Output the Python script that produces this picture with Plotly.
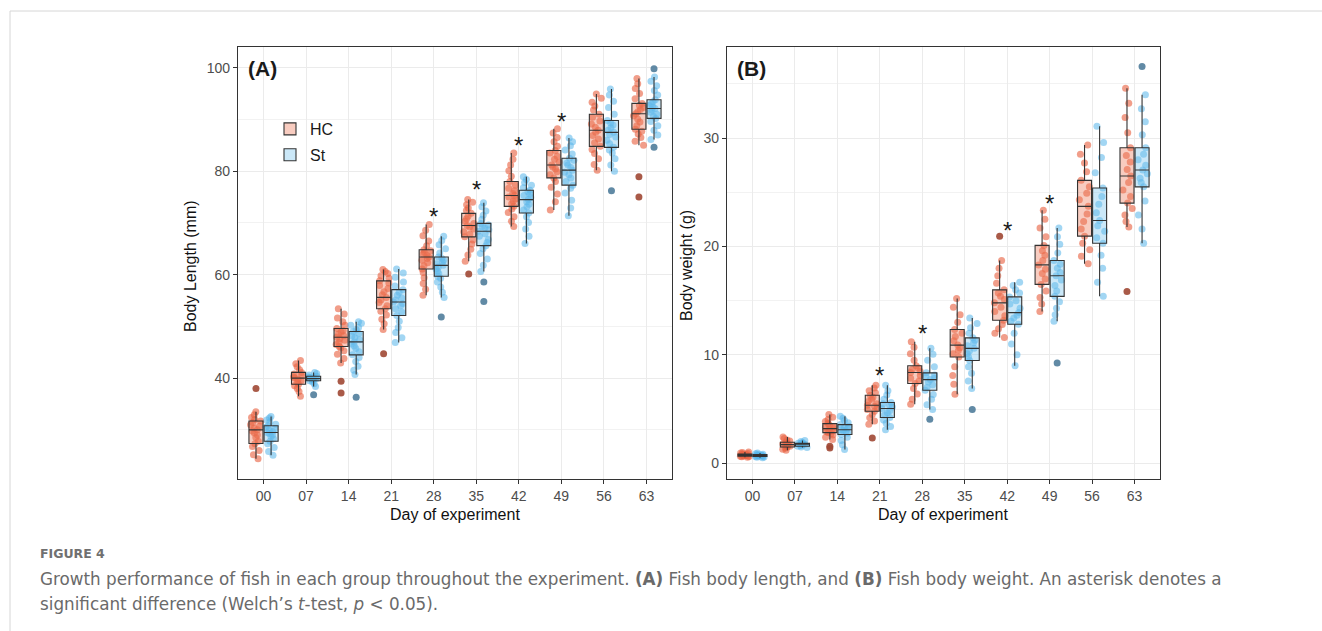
import plotly.graph_objects as go

days = ["00", "07", "14", "21", "28", "35", "42", "49", "56", "63"]
groups = ["HC", "St"]

# ---------------- Panel A: body length (mm) ----------------
A_HC_pts = [
    [24.4, 25.2, 26.0, 26.8, 27.3, 27.8, 28.5, 29.0, 29.4, 29.8, 30.0, 30.3, 30.7, 31.0, 31.4, 31.7, 32.0, 32.4, 32.9, 33.5],
    [36.5, 37.4, 38.0, 38.5, 38.8, 39.2, 39.5, 39.8, 40.0, 40.2, 40.5, 40.8, 41.1, 41.6, 42.2, 42.8, 43.4],
    [42.9, 43.8, 44.6, 45.3, 45.8, 46.1, 46.5, 46.9, 47.3, 47.6, 47.9, 48.2, 48.5, 48.9, 49.2, 49.6, 50.2, 50.9, 51.6, 52.4, 53.4],
    [49.4, 50.5, 51.4, 52.2, 52.9, 53.4, 54.0, 54.6, 55.1, 55.6, 56.1, 56.7, 57.3, 57.9, 58.4, 58.8, 59.3, 59.8, 60.2, 60.6, 61.0],
    [56.0, 57.2, 58.3, 59.4, 60.4, 61.1, 61.7, 62.3, 62.8, 63.1, 63.4, 63.7, 64.0, 64.3, 64.6, 64.8, 65.6, 66.5, 67.5, 68.6, 69.7],
    [62.6, 63.8, 64.9, 65.9, 66.7, 67.3, 67.8, 68.3, 68.8, 69.2, 69.5, 69.9, 70.3, 70.8, 71.3, 71.85, 72.4, 72.9, 73.5, 74.0, 74.5],
    [69.3, 70.3, 71.2, 72.0, 72.7, 73.2, 73.7, 74.2, 74.6, 75.0, 75.3, 75.7, 76.2, 76.7, 77.3, 78.0, 79.0, 80.1, 81.2, 82.3, 83.5],
    [72.5, 74.1, 75.6, 76.9, 78.0, 78.7, 79.3, 79.9, 80.4, 80.8, 81.2, 81.7, 82.3, 82.9, 83.5, 84.0, 84.8, 85.7, 86.5, 87.4, 88.2],
    [80.2, 81.3, 82.4, 83.4, 84.2, 84.8, 85.5, 86.2, 86.9, 87.5, 87.9, 88.5, 89.1, 89.7, 90.4, 91.0, 91.8, 92.6, 93.3, 94.1, 94.9],
    [85.0, 85.8, 86.5, 87.2, 87.7, 88.1, 88.8, 89.5, 90.1, 90.7, 91.1, 91.5, 91.9, 92.3, 92.7, 93.1, 94.0, 95.0, 96.0, 96.9, 97.9],
]
A_ST_pts = [
    [25.1, 25.8, 26.6, 27.3, 27.8, 28.3, 28.7, 29.0, 29.3, 29.5, 29.7, 29.9, 30.2, 30.5, 30.8, 31.1, 31.5, 31.9, 32.3, 32.6],
    [38.4, 38.9, 39.3, 39.5, 39.7, 39.8, 39.9, 40.0, 40.1, 40.2, 40.35, 40.6, 40.9, 41.1],
    [40.7, 41.5, 42.3, 43.2, 44.0, 44.5, 45.1, 45.7, 46.2, 46.6, 47.0, 47.4, 47.8, 48.2, 48.6, 49.0, 49.4, 49.8, 50.2, 50.6, 50.9],
    [46.9, 47.8, 48.8, 49.8, 51.0, 52.1, 52.8, 53.4, 54.0, 54.4, 54.7, 55.1, 55.5, 56.0, 56.6, 57.1, 57.8, 58.6, 59.5, 60.3, 61.1],
    [55.6, 56.6, 57.6, 58.6, 59.3, 59.7, 60.2, 60.7, 61.1, 61.5, 61.8, 62.1, 62.5, 62.8, 63.1, 63.4, 64.2, 65.0, 65.8, 66.6, 67.4],
    [60.6, 61.8, 63.0, 64.1, 65.0, 65.6, 66.2, 66.8, 67.4, 67.9, 68.4, 68.7, 69.0, 69.3, 69.6, 69.9, 70.7, 71.5, 72.3, 73.1, 73.9],
    [66.0, 67.4, 68.8, 70.1, 71.2, 71.9, 72.5, 73.1, 73.6, 74.1, 74.5, 74.9, 75.3, 75.6, 76.0, 76.3, 76.8, 77.3, 77.8, 78.4, 78.9],
    [71.4, 72.9, 74.4, 75.8, 76.7, 77.3, 78.0, 78.7, 79.3, 79.8, 80.2, 80.7, 81.2, 81.6, 82.1, 82.5, 83.3, 84.1, 84.9, 85.7, 86.4],
    [80.0, 81.2, 82.4, 83.5, 84.1, 84.6, 85.3, 86.0, 86.6, 87.1, 87.5, 87.9, 88.4, 88.9, 89.3, 89.8, 91.0, 92.3, 93.5, 94.7, 95.9],
    [86.1, 87.0, 87.9, 88.8, 89.6, 90.2, 90.6, 91.0, 91.4, 91.8, 92.1, 92.4, 92.7, 93.1, 93.4, 93.8, 94.7, 95.6, 96.5, 97.4, 98.2],
]
A_HC_out = [[38.0], [], [39.4, 37.1], [44.7], [], [60.1], [], [], [], [78.9, 75.0]]
A_ST_out = [[], [36.8], [36.3], [], [51.8], [58.6, 54.8], [], [], [76.2], [99.8, 84.6]]

# box statistics (lower whisker, q1, median, q3, upper whisker)
A_HC_lo = [24.4, 36.5, 42.9, 49.4, 56.0, 62.6, 69.3, 72.5, 80.2, 85.0]
A_HC_q1 = [27.35, 38.8, 46.1, 53.4, 61.1, 67.3, 73.2, 78.7, 84.8, 88.1]
A_HC_med = [30.0, 40.0, 47.9, 55.6, 63.4, 69.5, 75.3, 81.2, 87.9, 91.1]
A_HC_q3 = [31.7, 41.1, 49.6, 58.8, 64.8, 71.85, 78.0, 84.0, 91.0, 93.1]
A_HC_hi = [33.5, 43.4, 53.4, 61.0, 69.7, 74.5, 83.5, 88.2, 94.9, 97.9]
A_ST_lo = [25.1, 38.4, 40.7, 46.9, 55.6, 60.6, 66.0, 71.4, 80.0, 86.1]
A_ST_q1 = [27.8, 39.5, 44.5, 52.1, 59.7, 65.6, 71.9, 77.3, 84.6, 90.2]
A_ST_med = [29.5, 39.9, 47.0, 54.7, 61.8, 68.4, 74.5, 80.2, 87.5, 92.1]
A_ST_q3 = [30.8, 40.35, 49.0, 57.1, 63.4, 69.9, 76.3, 82.5, 89.8, 93.8]
A_ST_hi = [32.6, 41.1, 50.9, 61.1, 67.4, 73.9, 78.9, 86.4, 95.9, 98.2]

A_star_days = ["28", "35", "42", "49"]
A_star_y = [72.4, 77.6, 86.1, 90.7]

# ---------------- Panel B: body weight (g) ----------------
B_HC_pts = [
    [0.55, 0.6, 0.63, 0.65, 0.68, 0.71, 0.73, 0.75, 0.77, 0.79, 0.82, 0.85, 0.9, 0.95, 1.0, 1.05],
    [1.2, 1.3, 1.4, 1.5, 1.58, 1.65, 1.72, 1.78, 1.85, 1.94, 2.05, 2.15, 2.28, 2.43],
    [2.2, 2.4, 2.6, 2.75, 2.83, 2.92, 3.0, 3.1, 3.2, 3.3, 3.4, 3.5, 3.66, 3.85, 4.05, 4.25, 4.5],
    [3.6, 3.9, 4.2, 4.5, 4.8, 4.95, 5.1, 5.25, 5.35, 5.5, 5.7, 5.9, 6.1, 6.28, 6.5, 6.7, 6.95, 7.2],
    [5.45, 5.9, 6.4, 6.9, 7.36, 7.6, 7.85, 8.1, 8.37, 8.5, 8.65, 8.8, 9.0, 9.5, 10.1, 10.7, 11.2],
    [6.37, 7.3, 8.1, 8.9, 9.81, 10.1, 10.4, 10.65, 10.9, 11.3, 11.7, 12.0, 12.34, 13.0, 13.7, 14.4, 15.2],
    [11.6, 12.0, 12.4, 12.8, 13.2, 13.6, 14.0, 14.4, 14.8, 15.1, 15.4, 15.7, 16.0, 16.6, 17.3, 18.0, 18.7],
    [14.0, 14.7, 15.3, 15.9, 16.5, 17.0, 17.5, 17.9, 18.3, 18.7, 19.2, 19.6, 20.1, 20.9, 21.7, 22.5, 23.35],
    [18.4, 19.1, 19.7, 20.3, 20.95, 21.6, 22.3, 23.0, 23.7, 24.3, 24.9, 25.5, 26.1, 26.9, 27.7, 28.5, 29.35],
    [21.8, 22.3, 22.9, 23.5, 24.0, 24.6, 25.2, 25.9, 26.5, 27.1, 27.8, 28.4, 29.1, 30.5, 31.9, 33.2, 34.6],
]
B_ST_pts = [
    [0.5, 0.55, 0.59, 0.62, 0.65, 0.67, 0.69, 0.7, 0.72, 0.74, 0.77, 0.8, 0.84, 0.89, 0.95],
    [1.45, 1.5, 1.57, 1.63, 1.69, 1.75, 1.79, 1.82, 1.85, 1.92, 2.0, 2.1],
    [1.26, 1.7, 2.1, 2.4, 2.65, 2.8, 2.95, 3.05, 3.1, 3.2, 3.3, 3.42, 3.57, 3.75, 3.95, 4.15, 4.34],
    [3.1, 3.4, 3.7, 4.0, 4.22, 4.45, 4.65, 4.85, 5.05, 5.2, 5.35, 5.48, 5.6, 5.9, 6.3, 6.7, 7.2],
    [4.95, 5.4, 5.9, 6.35, 6.74, 7.0, 7.25, 7.5, 7.72, 7.85, 8.0, 8.15, 8.34, 8.9, 9.5, 10.05, 10.6],
    [6.9, 7.6, 8.3, 8.9, 9.48, 9.8, 10.1, 10.35, 10.6, 10.85, 11.1, 11.35, 11.57, 12.0, 12.5, 12.9, 13.4],
    [9.0, 10.0, 11.0, 12.0, 12.83, 13.1, 13.4, 13.65, 13.9, 14.3, 14.7, 15.0, 15.35, 15.7, 16.0, 16.4, 16.7],
    [13.1, 13.7, 14.3, 14.9, 15.4, 15.9, 16.4, 16.9, 17.3, 17.6, 18.0, 18.35, 18.7, 19.4, 20.2, 20.9, 21.7],
    [15.4, 16.7, 18.0, 19.2, 20.3, 20.8, 21.4, 21.9, 22.4, 23.1, 23.9, 24.6, 25.4, 26.8, 28.2, 29.6, 31.1],
    [20.3, 21.6, 22.9, 24.2, 25.5, 25.9, 26.3, 26.7, 27.05, 27.5, 28.0, 28.5, 29.1, 30.3, 31.5, 32.7, 34.0],
]
B_HC_out = [[], [], [1.57, 1.4], [2.34], [], [], [20.95], [], [], [15.85]]
B_ST_out = [[], [], [], [], [4.06], [4.95], [], [9.26], [], [36.6]]

B_HC_lo = [0.55, 1.2, 2.2, 3.6, 5.45, 6.37, 11.6, 14.0, 18.4, 21.8]
B_HC_q1 = [0.65, 1.5, 2.83, 4.8, 7.36, 9.81, 13.2, 16.5, 20.95, 24.0]
B_HC_med = [0.75, 1.72, 3.2, 5.35, 8.37, 10.9, 14.8, 18.3, 23.7, 26.5]
B_HC_q3 = [0.85, 1.94, 3.66, 6.28, 9.0, 12.34, 16.0, 20.1, 26.1, 29.1]
B_HC_hi = [1.05, 2.43, 4.5, 7.2, 11.2, 15.2, 18.7, 23.35, 29.35, 34.6]
B_ST_lo = [0.5, 1.45, 1.26, 3.1, 4.95, 6.9, 9.0, 13.1, 15.4, 20.3]
B_ST_q1 = [0.62, 1.57, 2.65, 4.22, 6.74, 9.48, 12.83, 15.4, 20.3, 25.5]
B_ST_med = [0.7, 1.75, 3.1, 5.05, 7.72, 10.6, 13.9, 17.3, 22.4, 27.05]
B_ST_q3 = [0.8, 1.85, 3.57, 5.6, 8.34, 11.57, 15.35, 18.7, 25.4, 29.1]
B_ST_hi = [0.95, 2.1, 4.34, 7.2, 10.6, 13.4, 16.7, 21.7, 31.1, 34.0]

B_star_days = ["21", "28", "42", "49"]
B_star_y = [8.68, 12.55, 22.06, 24.55]

# ---------------- styling ----------------
W, H = 1322, 631
PT_COL = {"HC": "rgba(232,99,66,0.62)", "St": "rgba(86,180,233,0.55)"}
FILL_COL = {"HC": "rgba(236,120,90,0.38)", "St": "rgba(110,190,236,0.36)"}
OUT_COL = {"HC": "rgba(160,72,52,0.9)", "St": "rgba(80,125,155,0.9)"}
FONT = "Liberation Sans, Arial, sans-serif"


def px_x(p):
    return p / W


def px_y(p):
    return 1 - p / H


fig = go.Figure()


def add_panel(xa, ya, pts, outs, stats, legend):
    # jittered raw points
    for g in groups:
        xs, ys = [], []
        for d, vals in zip(days, pts[g]):
            xs += [d] * len(vals)
            ys += vals
        fig.add_trace(go.Box(
            x=xs, y=ys, xaxis=xa, yaxis=ya, name=g, offsetgroup=g, alignmentgroup="a",
            boxpoints="all", jitter=0.8, pointpos=0,
            fillcolor="rgba(0,0,0,0)", line=dict(width=0, color="rgba(0,0,0,0)"),
            marker=dict(color=PT_COL[g], size=7, line=dict(width=0)),
            showlegend=False, hoverinfo="skip"))
    # boxes
    for g in groups:
        lo, q1, med, q3, hi = stats[g]
        fig.add_trace(go.Box(
            x=days, lowerfence=lo, q1=q1, median=med, q3=q3, upperfence=hi,
            xaxis=xa, yaxis=ya, name=g, offsetgroup=g, alignmentgroup="a",
            boxpoints=False, whiskerwidth=0,
            fillcolor=FILL_COL[g], line=dict(width=1.1, color="#333333"),
            showlegend=legend, legendgroup=g))
    # outliers
    for g in groups:
        xs, ys = [], []
        for d, vals in zip(days, outs[g]):
            xs += [d] * len(vals)
            ys += vals
        fig.add_trace(go.Box(
            x=xs, y=ys, xaxis=xa, yaxis=ya, name=g, offsetgroup=g, alignmentgroup="a",
            boxpoints="all", jitter=0, pointpos=0,
            fillcolor="rgba(0,0,0,0)", line=dict(width=0, color="rgba(0,0,0,0)"),
            marker=dict(color=OUT_COL[g], size=7, line=dict(width=0)),
            showlegend=False, hoverinfo="skip"))


add_panel("x", "y",
          {"HC": A_HC_pts, "St": A_ST_pts},
          {"HC": A_HC_out, "St": A_ST_out},
          {"HC": (A_HC_lo, A_HC_q1, A_HC_med, A_HC_q3, A_HC_hi),
           "St": (A_ST_lo, A_ST_q1, A_ST_med, A_ST_q3, A_ST_hi)}, True)
add_panel("x2", "y2",
          {"HC": B_HC_pts, "St": B_ST_pts},
          {"HC": B_HC_out, "St": B_ST_out},
          {"HC": (B_HC_lo, B_HC_q1, B_HC_med, B_HC_q3, B_HC_hi),
           "St": (B_ST_lo, B_ST_q1, B_ST_med, B_ST_q3, B_ST_hi)}, False)

ydom = [px_y(479), px_y(47)]
axis_common = dict(
    showline=True, mirror=True, linecolor="#333333", linewidth=1.3,
    ticks="outside", ticklen=4, tickwidth=1, tickcolor="#333333",
    tickfont=dict(family=FONT, size=14, color="#4D4D4D"),
    gridcolor="#EBEBEB", gridwidth=1, zeroline=False, showgrid=True,
)
xcommon = dict(axis_common, type="category", categoryorder="array",
               categoryarray=days, range=[-0.6, 9.6])

annotations = []
shapes = []

fig.update_layout(
    width=W, height=H,
    margin=dict(l=0, r=0, t=0, b=0),
    paper_bgcolor="white", plot_bgcolor="white",
    boxmode="group", boxgap=0.29, boxgroupgap=0.07,
    font=dict(family=FONT, color="#222222"),
    xaxis=dict(xcommon, domain=[px_x(238), px_x(672)], anchor="y"),
    yaxis=dict(axis_common, domain=ydom, anchor="x", range=[20.5, 104],
               tickvals=[40, 60, 80, 100],
               minor=dict(tickvals=[30, 50, 70, 90], showgrid=True,
                          gridcolor="#F2F2F2", gridwidth=1, ticks="")),
    xaxis2=dict(xcommon, domain=[px_x(727), px_x(1160)], anchor="y2"),
    yaxis2=dict(axis_common, domain=ydom, anchor="x2", range=[-1.45, 38.4],
                tickvals=[0, 10, 20, 30],
                minor=dict(tickvals=[5, 15, 25, 35], showgrid=True,
                           gridcolor="#F2F2F2", gridwidth=1, ticks="")),
    legend=dict(x=px_x(270), y=px_y(112), xanchor="left", yanchor="top",
                bgcolor="rgba(0,0,0,0)", font=dict(family=FONT, size=16, color="#1a1a1a"),
                itemwidth=30, tracegroupgap=2),
)

# panel tags
annotations.append(dict(text="<b>(A)</b>", x=px_x(246), y=px_y(68), xref="paper", yref="paper",
                        xanchor="left", yanchor="middle", showarrow=False,
                        font=dict(family=FONT, size=21, color="#1a1a1a")))
annotations.append(dict(text="<b>(B)</b>", x=px_x(735), y=px_y(68), xref="paper", yref="paper",
                        xanchor="left", yanchor="middle", showarrow=False,
                        font=dict(family=FONT, size=21, color="#1a1a1a")))

# significance asterisks (category axes: position by category index)
for d, yv in zip(A_star_days, A_star_y):
    annotations.append(dict(text="*", x=days.index(d), y=yv, xref="x", yref="y", showarrow=False,
                            yanchor="middle", yshift=-6,
                            font=dict(family=FONT, size=24, color="#1a1a1a")))
for d, yv in zip(B_star_days, B_star_y):
    annotations.append(dict(text="*", x=days.index(d), y=yv, xref="x2", yref="y2", showarrow=False,
                            yanchor="middle", yshift=-6,
                            font=dict(family=FONT, size=24, color="#1a1a1a")))

# axis titles
for txt, xp in [("Day of experiment", 455), ("Day of experiment", 943)]:
    annotations.append(dict(text=txt, x=px_x(xp), y=px_y(514), xref="paper", yref="paper",
                            xanchor="center", yanchor="middle", showarrow=False,
                            font=dict(family=FONT, size=16, color="#111111")))
for txt, xp in [("Body Length (mm)", 190), ("Body weight (g)", 686)]:
    annotations.append(dict(text=txt, x=px_x(xp), y=px_y(266), xref="paper", yref="paper",
                            xanchor="center", yanchor="middle", textangle=-90, showarrow=False,
                            font=dict(family=FONT, size=16, color="#111111")))

# caption
CAP_FONT = "DejaVu Sans, sans-serif"
annotations.append(dict(text="<b>FIGURE 4</b>", x=px_x(38), y=px_y(553), xref="paper", yref="paper",
                        xanchor="left", yanchor="middle", showarrow=False,
                        font=dict(family=CAP_FONT, size=12.5, color="#707070")))
annotations.append(dict(
    text="Growth performance of fish in each group throughout the experiment. <b>(A)</b> Fish body length, "
         "and <b>(B)</b> Fish body weight. An asterisk denotes a",
    x=px_x(38), y=px_y(579), xref="paper", yref="paper", xanchor="left", yanchor="middle",
    showarrow=False, font=dict(family=CAP_FONT, size=16.8, color="#6a6a6a")))
annotations.append(dict(
    text="significant difference (Welch\u2019s <i>t</i>-test, <i>p</i> &lt; 0.05).",
    x=px_x(38), y=px_y(604), xref="paper", yref="paper", xanchor="left", yanchor="middle",
    showarrow=False, font=dict(family=CAP_FONT, size=16.8, color="#6a6a6a")))

# page frame lines
shapes.append(dict(type="line", xref="paper", yref="paper", x0=px_x(10), x1=1, y0=px_y(11), y1=px_y(11),
                   line=dict(color="#D6D6D6", width=1)))
shapes.append(dict(type="line", xref="paper", yref="paper", x0=px_x(10), x1=px_x(10), y0=px_y(11), y1=0,
                   line=dict(color="#D6D6D6", width=1)))

fig.update_layout(annotations=annotations, shapes=shapes)
fig.write_html(
    "out.html",
    config={"displayModeBar": False},
    post_script="document.body.style.margin='0';document.body.style.overflow='hidden';"
                "document.documentElement.style.overflow='hidden';",
)
